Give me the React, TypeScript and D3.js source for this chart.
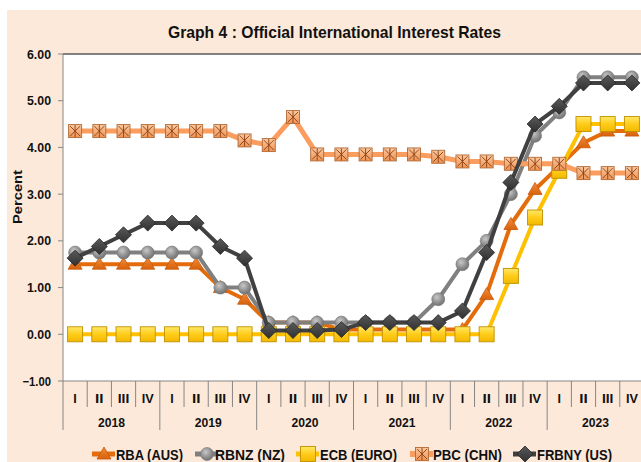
import React from "react";
import * as d3 from "d3";

const years = ["2018", "2019", "2020", "2021", "2022", "2023"];
const quarterNames = ["I", "II", "III", "IV"];
const yTicks = [-1, 0, 1, 2, 3, 4, 5, 6];

const rba = [1.5, 1.5, 1.5, 1.5, 1.5, 1.5, 1.0, 0.75, 0.25, 0.25, 0.25, 0.1, 0.1, 0.1, 0.1, 0.1, 0.1, 0.85, 2.35, 3.1, 3.6, 4.1, 4.35, 4.35];
const rbnz = [1.75, 1.75, 1.75, 1.75, 1.75, 1.75, 1.0, 1.0, 0.25, 0.25, 0.25, 0.25, 0.25, 0.25, 0.25, 0.75, 1.5, 2.0, 3.0, 4.25, 4.75, 5.5, 5.5, 5.5];
const ecb = [0, 0, 0, 0, 0, 0, 0, 0, 0, 0, 0, 0, 0, 0, 0, 0, 0, 0, 1.25, 2.5, 3.5, 4.5, 4.5, 4.5];
const pbc = [4.35, 4.35, 4.35, 4.35, 4.35, 4.35, 4.35, 4.15, 4.05, 4.65, 3.85, 3.85, 3.85, 3.85, 3.85, 3.8, 3.7, 3.7, 3.65, 3.65, 3.65, 3.45, 3.45, 3.45];
const frbny = [1.63, 1.88, 2.13, 2.38, 2.38, 2.38, 1.88, 1.63, 0.08, 0.08, 0.08, 0.1, 0.25, 0.25, 0.25, 0.25, 0.5, 1.75, 3.25, 4.5, 4.88, 5.38, 5.38, 5.38];

const seriesNames = ["RBA (AUS)", "RBNZ (NZ)", "ECB (EURO)", "PBC (CHN)", "FRBNY (US)"];

const FONT = "'Liberation Sans', Arial, sans-serif";

type MarkerKind = "triangle" | "circle" | "square" | "xsquare" | "diamond";

const series = [
  { name: seriesNames[0], values: rba, color: "#E46C0A", width: 4, marker: "triangle" as MarkerKind },
  { name: seriesNames[1], values: rbnz, color: "#808080", width: 4, marker: "circle" as MarkerKind },
  { name: seriesNames[2], values: ecb, color: "#FFC000", width: 4, marker: "square" as MarkerKind },
  { name: seriesNames[3], values: pbc, color: "#FA9D5E", width: 5, marker: "xsquare" as MarkerKind },
  { name: seriesNames[4], values: frbny, color: "#404040", width: 4, marker: "diamond" as MarkerKind },
];

function Marker({ kind, x, y }: { kind: MarkerKind; x: number; y: number }) {
  switch (kind) {
    case "triangle":
      return (
        <path
          d={`M${x},${y - 7} L${x + 7},${y + 5} L${x - 7},${y + 5} Z`}
          fill="url(#gTri)"
          stroke="#C55A11"
          strokeWidth={0.8}
        />
      );
    case "circle":
      return <circle cx={x} cy={y} r={6.5} fill="url(#gCirc)" stroke="#767676" strokeWidth={0.6} />;
    case "square":
      return (
        <rect x={x - 7.5} y={y - 7.5} width={15} height={15} fill="url(#gSq)" stroke="#BF9000" strokeWidth={0.9} />
      );
    case "xsquare":
      return (
        <g>
          <rect x={x - 6.5} y={y - 6.5} width={13} height={13} fill="url(#gX)" stroke="#B06A35" strokeWidth={0.9} />
          <path
            d={`M${x - 5},${y - 5} L${x + 5},${y + 5} M${x + 5},${y - 5} L${x - 5},${y + 5} M${x},${y - 6} L${x},${y + 6}`}
            stroke="#8B3E0E"
            strokeWidth={0.9}
          />
        </g>
      );
    case "diamond":
      return (
        <path
          d={`M${x},${y - 8} L${x + 8},${y} L${x},${y + 8} L${x - 8},${y} Z`}
          fill="url(#gDia)"
          stroke="#262626"
          strokeWidth={0.8}
        />
      );
  }
  return null;
}

export default function App() {
  const W = 641;
  const H = 462;
  const left = 63;
  const right = 644;
  const top = 54;
  const bottom = 381;

  const idx = d3.range(years.length * quarterNames.length);
  const x = d3.scaleBand<number>().domain(idx).range([left, right]).padding(0);
  const y = d3.scaleLinear().domain([-1, 6]).range([bottom, top]);
  const cx = (i: number) => (x(i) as number) + x.bandwidth() / 2;

  const line = d3
    .line<number>()
    .x((_, i) => cx(i))
    .y((d) => y(d));

  const legendMarkerX = [104, 207, 308, 422, 525];
  const legendTextX = [116, 215, 320, 433, 537];
  const legendTextW = [67, 70, 77, 69, 75];
  const legendY = 454;

  return (
    <svg width={W} height={H} style={{ position: "absolute", left: 0, top: 0, display: "block" }}>
      <defs>
        <linearGradient id="gTri" x1="0" y1="0" x2="0" y2="1">
          <stop offset="0" stopColor="#F28C3A" />
          <stop offset="1" stopColor="#D9620A" />
        </linearGradient>
        <radialGradient id="gCirc" cx="0.4" cy="0.35" r="0.7">
          <stop offset="0" stopColor="#C8C8C8" />
          <stop offset="0.6" stopColor="#8E8E8E" />
          <stop offset="1" stopColor="#6E6E6E" />
        </radialGradient>
        <linearGradient id="gSq" x1="0" y1="0" x2="0" y2="1">
          <stop offset="0" stopColor="#FFE866" />
          <stop offset="0.5" stopColor="#FFCC1A" />
          <stop offset="1" stopColor="#F2B800" />
        </linearGradient>
        <linearGradient id="gX" x1="0" y1="0" x2="0" y2="1">
          <stop offset="0" stopColor="#FBC9A0" />
          <stop offset="1" stopColor="#EE9254" />
        </linearGradient>
        <linearGradient id="gDia" x1="0" y1="0" x2="0" y2="1">
          <stop offset="0" stopColor="#5A5A5A" />
          <stop offset="1" stopColor="#303030" />
        </linearGradient>
      </defs>

      <rect x={0} y={0} width={W} height={H} fill="#FFFFFF" />
      <rect x={7} y={10} width={W} height={H} fill="#FDE9D9" />

      <text
        x={168}
        y={37.5}
        fontFamily={FONT}
        fontWeight="bold"
        fontSize={17}
        textLength={333}
        lengthAdjust="spacingAndGlyphs"
        fill="#111"
      >
        Graph 4 : Official International Interest Rates
      </text>

      {/* plot area */}
      <rect x={left} y={top} width={right - left} height={bottom - top} fill="#FFFFFF" />
      <line x1={left} x2={W} y1={top} y2={top} stroke="#5A5A5A" strokeWidth={1.5} />
      <line x1={left} x2={left} y1={top} y2={430} stroke="#868686" strokeWidth={1} />
      <line x1={left} x2={W} y1={bottom} y2={bottom} stroke="#868686" strokeWidth={1.2} />

      {/* y axis */}
      {yTicks.map((t) => (
        <g key={t}>
          <line x1={58} x2={left} y1={y(t)} y2={y(t)} stroke="#868686" />
          <text
            x={51}
            y={y(t) + 4.5}
            textAnchor="end"
            fontFamily={FONT}
            fontWeight="bold"
            fontSize={12.5}
            textLength={t < 0 ? 28.5 : 24}
            lengthAdjust="spacingAndGlyphs"
            fill="#111"
          >
            {d3.format(".2f")(t)}
          </text>
        </g>
      ))}
      <text
        transform={`translate(21.5,197) rotate(-90)`}
        textAnchor="middle"
        fontFamily={FONT}
        fontWeight="bold"
        fontSize={13}
        textLength={54}
        lengthAdjust="spacingAndGlyphs"
        fill="#111"
      >
        Percent
      </text>

      {/* x axis */}
      {idx.map((i) => {
        const bx = x(i) as number;
        const isYear = i % 4 === 0;
        return (
          <g key={i}>
            {i > 0 && (
              <line x1={bx} x2={bx} y1={bottom} y2={isYear ? 430 : 407} stroke="#868686" />
            )}
            <text
              x={cx(i)}
              y={402.5}
              textAnchor="middle"
              fontFamily={FONT}
              fontWeight="bold"
              fontSize={12.5}
              fill="#111"
              textLength={quarterNames[i % 4] === "I" ? undefined : quarterNames[i % 4].length * 3 + (quarterNames[i % 4] === "IV" ? 6 : 2.5)}
              lengthAdjust="spacingAndGlyphs"
            >
              {quarterNames[i % 4]}
            </text>
          </g>
        );
      })}
      {years.map((yr, k) => {
        const start = x(k * 4) as number;
        const mid = start + (x.bandwidth() * 4) / 2;
        return (
          <text
            key={yr}
            x={mid}
            y={426.5}
            textAnchor="middle"
            fontFamily={FONT}
            fontWeight="bold"
            fontSize={12.5}
            textLength={27}
            lengthAdjust="spacingAndGlyphs"
            fill="#111"
          >
            {yr}
          </text>
        );
      })}

      {/* series */}
      {series.map((s) => (
        <g key={s.name}>
          <path
            d={line(s.values) ?? ""}
            fill="none"
            stroke={s.color}
            strokeWidth={s.width}
            strokeLinejoin="round"
          />
          {s.values.map((v, i) => (
            <Marker key={i} kind={s.marker} x={cx(i)} y={y(v)} />
          ))}
        </g>
      ))}

      {/* legend */}
      {series.map((s, k) => (
        <g key={s.name}>
          <line
            x1={legendMarkerX[k] - 12}
            x2={legendMarkerX[k] + 11}
            y1={legendY}
            y2={legendY}
            stroke={s.color}
            strokeWidth={s.width + 1}
          />
          <Marker kind={s.marker} x={legendMarkerX[k]} y={legendY} />
          <text
            x={legendTextX[k]}
            y={legendY + 5.5}
            fontFamily={FONT}
            fontWeight="bold"
            fontSize={15}
            textLength={legendTextW[k]}
            lengthAdjust="spacingAndGlyphs"
            fill="#111"
          >
            {s.name}
          </text>
        </g>
      ))}
    </svg>
  );
}
